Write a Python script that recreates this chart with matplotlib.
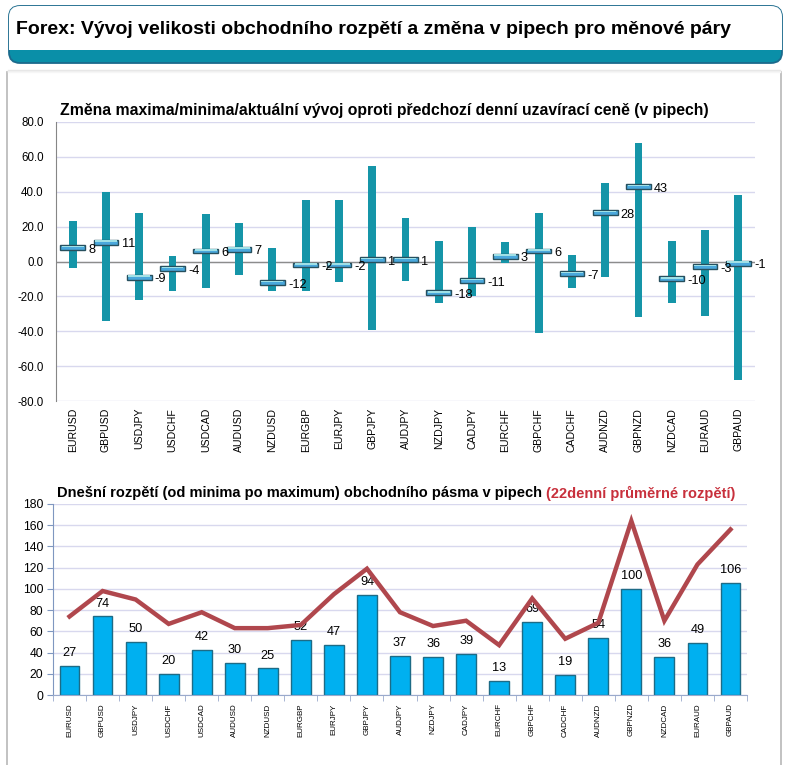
import matplotlib
matplotlib.use("Agg")
import matplotlib.pyplot as plt
import numpy as np
from matplotlib.patches import FancyBboxPatch, Rectangle
from matplotlib.lines import Line2D

plt.rcParams['font.family'] = ['Liberation Sans', 'DejaVu Sans']

# --- data ---
pairs = ['EURUSD', 'GBPUSD', 'USDJPY', 'USDCHF', 'USDCAD', 'AUDUSD', 'NZDUSD',
         'EURGBP', 'EURJPY', 'GBPJPY', 'AUDJPY', 'NZDJPY', 'CADJPY', 'EURCHF',
         'GBPCHF', 'CADCHF', 'AUDNZD', 'GBPNZD', 'NZDCAD', 'EURAUD', 'GBPAUD']
day_high = [23, 40, 28, 3, 27, 22, 8, 35, 35, 55, 25, 12, 20, 11, 28, 4, 45, 68, 12, 18, 38]
day_low = [-4, -34, -22, -17, -15, -8, -17, -17, -12, -39, -11, -24, -20, -1, -41, -15, -9, -32, -24, -31, -68]
day_now = [8, 11, -9, -4, 6, 7, -12, -2, -2, 1, 1, -18, -11, 3, 6, -7, 28, 43, -10, -3, -1]

range_today = [27, 74, 50, 20, 42, 30, 25, 52, 47, 94, 37, 36, 39, 13, 69, 19, 54, 100, 36, 49, 106]
range_avg22 = [74, 98, 90, 67, 78, 63, 63, 66, 95, 119, 78, 65, 70, 47, 91, 53, 68, 164, 70, 123, 156]

title_main = 'Forex: Vývoj velikosti obchodního rozpětí a změna v pipech pro měnové páry'
title_top = 'Změna maxima/minima/aktuální vývoj oproti předchozí denní uzavírací ceně (v pipech)'
title_bot = 'Dnešní rozpětí (od minima po maximum) obchodního pásma v pipech '
title_bot_red = '(22denní průměrné rozpětí)'

W, H = 788, 765
fig = plt.figure(figsize=(W / 100, H / 100), dpi=100)
fig.patch.set_facecolor('white')


def fx(px):
    return px / W


def fy(py):
    return 1 - py / H


# header box
hdr = FancyBboxPatch((fx(9), fy(63)), fx(773), fy(6) - fy(63),
                     boxstyle='round,pad=0,rounding_size=0.014',
                     transform=fig.transFigure, facecolor='#0a8fa8',
                     edgecolor='#1b6a8c', linewidth=1.3)
fig.patches.append(hdr)
white = Rectangle((fx(9), fy(50)), fx(773), fy(6) - fy(50), transform=fig.transFigure,
                  facecolor='white', edgecolor='none')
white.set_clip_path(hdr)
fig.patches.append(white)
fig.text(fx(16), fy(29), title_main, fontsize=14.0, fontweight='bold',
         va='center', ha='left', color='black')

# panel frame: side lines and a soft shadow at the top
for px in (7, 781):
    fig.add_artist(Line2D([fx(px), fx(px)], [fy(72), 0], transform=fig.transFigure,
                          color='#b8b8b8', linewidth=1.2))
for i, c in enumerate(['#e6e6e6', '#efefef', '#f6f6f6']):
    fig.add_artist(Line2D([fx(8), fx(780)], [fy(70 + i), fy(70 + i)],
                          transform=fig.transFigure, color=c, linewidth=1))

x = np.arange(len(pairs))
grid_c = '#d8d8ee'

# ---------- top chart ----------
ax1 = fig.add_axes([fx(56), fy(401), fx(755) - fx(56), fy(122) - fy(401)])
ax1.set_xlim(-0.5, len(pairs) - 0.5)
ax1.set_ylim(-80, 80)
ax1.set_yticks(np.arange(-80, 81, 20))
ax1.set_yticklabels([f'{v:.1f}' for v in np.arange(-80, 81, 20)])
ax1.yaxis.grid(True, color=grid_c, linewidth=1)
ax1.set_axisbelow(True)
ax1.axhline(0, color='#8c8c8c', linewidth=1, zorder=1)
for s in ['top', 'right', 'bottom']:
    ax1.spines[s].set_visible(False)
ax1.spines['left'].set_color('#868686')
ax1.tick_params(axis='y', length=0, pad=9, labelsize=8.3)
ax1.set_xticks(x)
ax1.set_xticklabels(pairs, rotation=90, fontsize=7.6)
ax1.tick_params(axis='x', length=0, pad=5)

hi = np.array(day_high)
lo = np.array(day_low)
now = np.array(day_now)
ax1.bar(x, hi - lo, bottom=lo, width=0.24, color='#1595a8', zorder=2)
ax1.bar(x, 2.8, bottom=now - 1.4, width=0.74, color='#4aa8dc',
        edgecolor='#27505e', linewidth=1.0, zorder=3)
ax1.bar(x, 0.9, bottom=now + 0.2, width=0.66, color='#9fe0e6',
        edgecolor='none', zorder=3.5)
for xi, v in zip(x, now):
    ax1.text(xi + 0.47, v - 1.2, f'{v}', fontsize=9.2, ha='left', va='center', zorder=4)
ax1.text(fx(60), fy(110), title_top, transform=fig.transFigure, fontsize=11.3,
         fontweight='bold', ha='left', va='center')

# ---------- bottom chart ----------
ax2 = fig.add_axes([fx(53), fy(695), fx(747) - fx(53), fy(504) - fy(695)])
ax2.set_xlim(-0.5, len(pairs) - 0.5)
ax2.set_ylim(0, 180)
ax2.set_yticks(np.arange(0, 181, 20))
ax2.yaxis.grid(True, color=grid_c, linewidth=1)
ax2.set_axisbelow(True)
for s in ['top', 'right']:
    ax2.spines[s].set_visible(False)
ax2.spines['left'].set_color('#7f97c0')
ax2.spines['bottom'].set_color('#9aaacc')
ax2.tick_params(axis='y', length=4, direction='out', color='#7f97c0', pad=3, labelsize=8.7)
ax2.set_xticks(x)
ax2.set_xticklabels(pairs, rotation=90, fontsize=5.8)
ax2.tick_params(axis='x', which='major', length=0, pad=6)
ax2.set_xticks(np.arange(-0.5, len(pairs), 1), minor=True)
ax2.tick_params(axis='x', which='minor', length=4, color='#9aaacc')

ax2.bar(x, range_today, width=0.6, color='#00b0f0', edgecolor='#1d6b86',
        linewidth=1.0, zorder=2)
for xi, v in zip(x, range_today):
    ax2.annotate(f'{v}', (xi, v), xytext=(0, 5), textcoords='offset points',
                 ha='center', va='bottom', fontsize=9.2)
ax2.plot(x, range_avg22, color='#b0474d', linewidth=3.2, zorder=3, solid_joinstyle='miter')

t1 = fig.text(fx(57), fy(493), title_bot, fontsize=10.5, fontweight='bold',
              ha='left', va='center')
ax2.annotate(title_bot_red, xy=(1, 0.5), xycoords=t1, ha='left', va='center',
             fontsize=10.5, fontweight='bold', color='#c8303c')

fig.savefig('out.png', dpi=100)
